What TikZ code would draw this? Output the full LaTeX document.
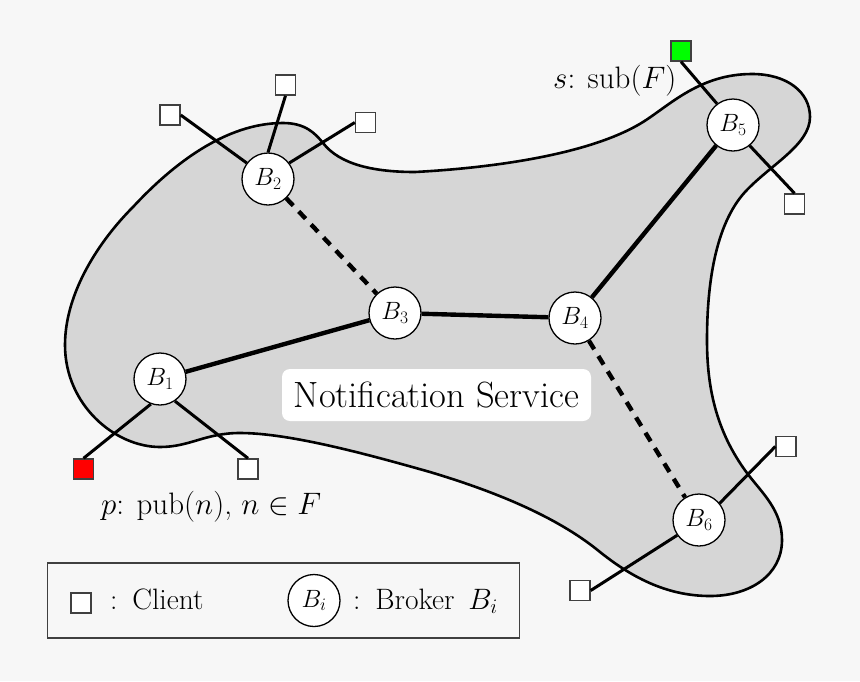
\RequirePackage{fix-cm}
\documentclass[tikz,border=0pt]{standalone}
\definecolor{bgc}{HTML}{F7F7F7}
\definecolor{blobc}{HTML}{D6D6D6}
\definecolor{boxc}{HTML}{404040}
\newcommand{\fs}[1]{\fontsize{#1}{#1}\selectfont}
\tikzset{
  blob/.style={fill=blobc,draw=black,line width=2.6pt},
  broker/.style={circle,draw=black,fill=white,line width=1.3pt,minimum size=52pt,inner sep=0pt,font=\fs{25}},
  client/.style={rectangle,draw=boxc,fill=white,line width=1.4pt,minimum size=20pt,inner sep=0pt},
  thin link/.style={line width=3pt,black},
  thick link/.style={line width=4.4pt,black},
  dash link/.style={line width=4.4pt,black,dash pattern=on 10pt off 8pt},
  label text/.style={inner sep=0pt,font=\fs{31}},
  legend text/.style={inner sep=0pt,font=\fs{29.5}},
}
\begin{document}
\begin{tikzpicture}[x=1pt,y=-1pt]
\useasboundingbox (0,0) rectangle (860,681);
\fill[bgc] (0,0) rectangle (860,681);
\draw[blob] (65,345)
  .. controls (65,292) and (100,240) .. (133,207)
  .. controls (172,165) and (225,123) .. (283,123)
  .. controls (305,123) and (315,133) .. (323,143)
  .. controls (340,165) and (375,172) .. (415,172)
  .. controls (490,168) and (590,155) .. (643,122)
  .. controls (670,105) and (700,74) .. (752,74)
  .. controls (787,74) and (810,92) .. (810,117)
  .. controls (810,145) and (770,165) .. (745,192)
  .. controls (715,225) and (707,285) .. (707,340)
  .. controls (707,385) and (715,430) .. (747,473)
  .. controls (762,493) and (782,510) .. (782,540)
  .. controls (782,575) and (750,596) .. (710,596)
  .. controls (670,596) and (635,580) .. (600,552)
  .. controls (555,515) and (490,490) .. (430,472)
  .. controls (370,455) and (290,433) .. (240,433)
  .. controls (205,433) and (190,447) .. (160,447)
  .. controls (115,447) and (65,405) .. (65,345) -- cycle;

\node[broker] (b1) at (160,379) {$B_1$};
\node[broker] (b2) at (268,179) {$B_2$};
\node[broker] (b3) at (395,313) {$B_3$};
\node[broker] (b4) at (575,318) {$B_4$};
\node[broker] (b5) at (733,125) {$B_5$};
\node[broker] (b6) at (699,520) {$B_6$};

\node[client] (c1) at (170,115) {};
\node[client] (c2) at (285.5,85) {};
\node[client] (c3) at (365.5,122.5) {};
\node[client,fill=green] (c4) at (681,51) {};
\node[client] (c5) at (794.5,204) {};
\node[client] (c6) at (786,446.5) {};
\node[client] (c7) at (580,590.5) {};
\node[client,fill=red] (c8) at (83.5,469) {};
\node[client] (c9) at (248,469) {};

\draw[thin link] (c1.east) -- (b2.143);
\draw[thin link] (c2.south) -- (b2.north);
\draw[thin link] (c3.west) -- (b2.37);
\draw[thin link] (c4.south) -- (b5.127);
\draw[thin link] (c5.north) -- (b5.-51);
\draw[thin link] (c6.west) -- (b6.39);
\draw[thin link] (c7.east) -- (b6.215);
\draw[thin link] (c8.north) -- (b1.250);
\draw[thin link] (c9.north) -- (b1.304);
\draw[thick link] (b1) -- (b3);
\draw[thick link] (b3) -- (b4);
\draw[thick link] (b4) -- (b5);
\draw[dash link] (b2) -- (b3);
\draw[dash link] (b4) -- (b6);

\node[fill=white,rounded corners=8pt,minimum width=309pt,minimum height=52pt,inner sep=0pt,font=\fs{36.5}] (ns) at (436.5,395) {Notification Service};
\node[label text,anchor=base west] (s) at (553,88) {$s$: sub$(F)$};
\node[label text,anchor=base west] (p) at (101,514) {$p$: pub$(n)$, $n\in F$};

\node[draw=boxc,line width=1.5pt,minimum width=472pt,minimum height=75pt,inner sep=0pt] (lg) at (283.5,600.5) {};
\node[client] (lc) at (81,603) {};
\node[legend text,anchor=base west] (lt1) at (110,609) {:\hspace{0.1em} Client};
\node[broker] (lb) at (314,600.5) {$B_i$};
\node[legend text,anchor=base west] (lt2) at (353,609) {:\hspace{0.1em} Broker\, $B_i$};
\end{tikzpicture}
\end{document}
